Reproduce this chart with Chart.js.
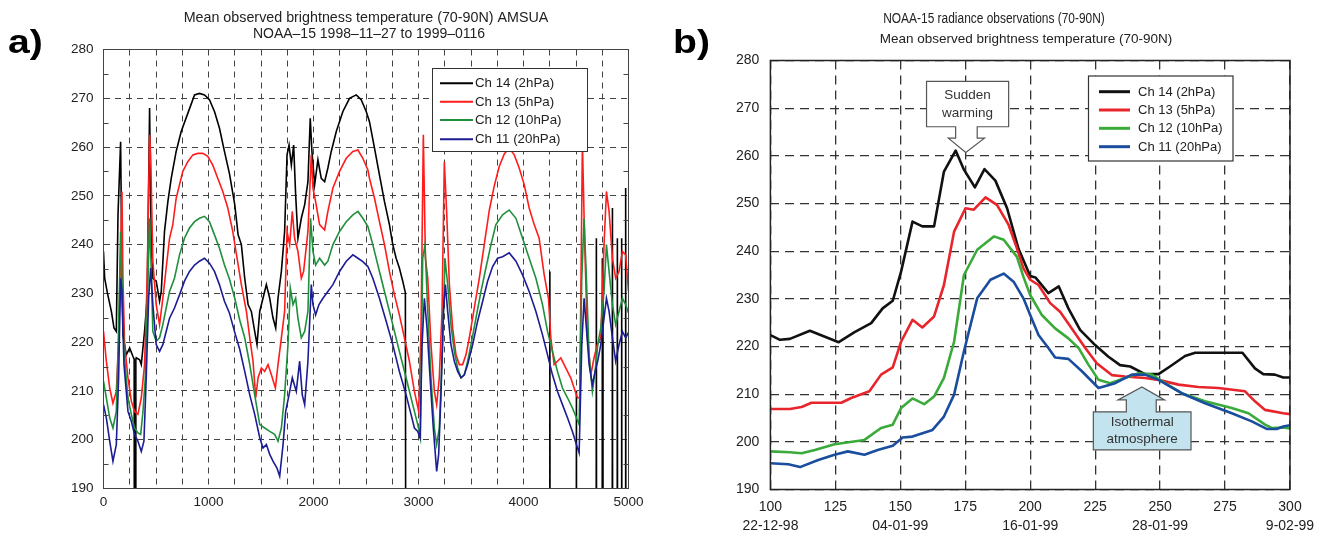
<!DOCTYPE html>
<html><head><meta charset="utf-8">
<script src="https://cdn.jsdelivr.net/npm/chart.js@4.4.1/dist/chart.umd.min.js"></script>
<style>
html,body{margin:0;padding:0;background:#fff;width:1328px;height:534px;overflow:hidden;font-family:"Liberation Sans",Arial,sans-serif;}
#ca{position:absolute;left:0;top:0;}
#cb{position:absolute;left:660px;top:0;}
.plabel{position:absolute;font-weight:bold;font-size:34px;line-height:34px;color:#000;font-family:"Liberation Sans",Arial,sans-serif;transform:scaleX(1.15);transform-origin:0 0;}
</style></head><body>
<canvas id="ca" width="660" height="534"></canvas>
<canvas id="cb" width="668" height="534"></canvas>
<div class="plabel" style="left:8px;top:24px">a)</div>
<div class="plabel" style="left:673px;top:24px">b)</div>
<script>
// ================= DATA =================
const seriesNames = ['Ch 14 (2hPa)','Ch 13 (5hPa)','Ch 12 (10hPa)','Ch 11 (20hPa)'];

// ---- Panel a : observation index vs brightness temperature (K); 0 = missing value ----
const aX14 = [0,11,37,75,100,122,138,163,176,185,217,249,280,292,300,308,312,344,360,391,416,439,455,470,502,534,550,581,613,645,692,740,803,867,914,962,1009,1057,1104,1152,1200,1250,1282,1313,1345,1377,1408,1440,1462,1488,1519,1551,1583,1614,1640,1662,1694,1725,1748,1767,1789,1811,1830,1852,1884,1916,1947,1969,1985,2011,2042,2074,2106,2137,2169,2217,2280,2343,2407,2454,2502,2533,2581,2628,2676,2723,2755,2787,2818,2850,2875,2888,4245,4251,4257,4498,4504,4510,4688,4694,4700,4745,4751,4757,4841,4847,4853,4888,4894,4900,4929,4935,4941,4967,4973,4979,5000];
const aY14 = [238.6,233.1,230.1,226.3,222.9,222.2,246.1,261.1,233.1,221.5,217.4,218.8,217.1,216.5,0,216.5,216.8,216.4,215.4,222.2,229.0,268.0,240.0,233.1,232.5,228.4,230.4,242.7,248.8,253.6,259.1,263.2,266.9,270.7,271.0,270.7,269.7,267.3,263.9,259.1,254.5,248.2,242.0,240.0,233.1,227.7,226.3,222.2,219.5,226.3,229.0,231.8,229.0,225.0,222.9,229.0,234.5,242.7,258.4,260.4,256.3,260.4,250.2,241.3,245.4,248.2,252.9,265.9,259.1,252.3,257.4,253.6,252.9,255.7,259.1,263.2,267.3,270.0,270.7,269.7,267.3,265.2,259.8,254.3,248.8,244.1,240.0,237.2,235.2,232.5,230.1,0,0,234.5,0,0,210.0,0,0,241.3,0,0,237.2,0,0,247.5,0,0,241.3,0,0,241.3,0,0,251.6,0,0];

const aX13 = [0,27,59,90,122,144,163,176,185,201,233,265,296,328,360,391,416,439,449,470,502,534,565,597,629,660,692,724,755,803,851,898,946,993,1041,1088,1136,1184,1231,1266,1313,1361,1393,1424,1450,1472,1504,1535,1567,1599,1637,1662,1694,1725,1748,1773,1798,1820,1852,1884,1906,1947,1979,1995,2020,2058,2106,2137,2185,2248,2312,2375,2423,2470,2518,2533,2581,2628,2676,2723,2771,2818,2866,2913,2961,3002,3024,3046,3066,3088,3119,3151,3173,3198,3224,3246,3268,3294,3325,3357,3389,3420,3452,3484,3531,3579,3626,3674,3721,3769,3817,3864,3912,3959,4007,4054,4102,4149,4197,4238,4260,4292,4324,4355,4387,4419,4450,4482,4514,4536,4561,4583,4609,4641,4672,4704,4736,4767,4790,4815,4847,4878,4910,4942,4973,5000];
const aY13 = [222.2,216.1,210.6,207.5,209.9,219.5,238.6,250.9,233.1,219.5,212.7,207.9,205.8,205.2,208.6,215.4,233.1,262.5,258.4,236.6,227.7,223.6,229.0,235.2,241.3,244.1,249.5,252.3,255.0,257.0,258.4,258.7,258.7,258.1,256.3,253.6,250.9,247.5,242.7,238.0,231.8,226.3,220.9,216.1,208.6,212.7,214.7,214.0,215.4,213.3,210.6,215.4,220.9,226.3,242.7,240.0,246.8,241.3,238.6,233.1,234.5,242.7,258.4,251.6,248.8,244.1,243.0,246.8,251.6,255.0,257.7,259.1,259.4,257.7,255.3,253.6,249.5,244.7,240.0,234.5,229.7,225.6,220.9,216.1,209.9,205.8,222.9,262.5,237.2,233.1,219.5,209.9,207.2,212.7,226.3,257.0,246.8,231.8,222.9,217.4,215.4,215.4,217.4,220.9,227.0,233.1,240.0,247.0,252.0,256.0,258.6,259.8,258.4,255.7,252.3,247.5,244.1,241.3,233.8,229.0,220.9,215.4,216.1,216.8,215.4,214.0,212.7,210.6,208.6,208.6,261.1,240.0,220.9,213.3,216.8,219.5,220.9,240.0,250.9,246.8,237.2,233.1,234.5,238.6,237.9,230.4];

const aX12 = [0,27,59,90,122,144,163,176,195,233,265,296,328,354,376,398,416,439,455,470,502,534,565,597,629,676,724,771,819,867,914,962,1009,1057,1104,1152,1199,1250,1298,1345,1393,1440,1488,1535,1583,1630,1662,1694,1725,1757,1779,1805,1830,1852,1884,1916,1947,1972,1995,2020,2058,2106,2137,2185,2248,2312,2375,2423,2470,2518,2565,2628,2692,2755,2818,2882,2945,2993,3018,3040,3062,3088,3119,3151,3173,3198,3230,3252,3278,3309,3341,3373,3405,3436,3468,3500,3547,3595,3642,3690,3737,3801,3864,3928,3991,4054,4118,4181,4229,4276,4324,4371,4419,4466,4504,4530,4555,4577,4599,4625,4656,4682,4707,4736,4767,4790,4815,4847,4878,4910,4942,4973,5000];
const aY12 = [212.0,208.6,204.5,202.4,205.8,222.9,242.7,233.1,218.1,208.6,205.2,202.4,201.4,201.1,205.8,212.7,226.3,245.4,234.5,222.2,220.2,220.9,223.6,227.0,230.4,233.1,237.9,241.3,243.4,244.7,245.4,245.8,244.7,242.0,239.3,235.8,233.0,229.0,224.5,220.9,215.4,209.2,203.1,202.4,201.7,201.1,199.7,202.4,209.2,219.5,231.1,227.7,229.0,224.9,220.9,222.2,226.3,245.4,238.6,235.8,237.2,235.8,236.6,240.0,242.7,244.7,246.1,246.8,245.4,243.7,240.0,234.5,229.0,223.6,218.1,212.7,207.2,203.1,200.4,237.2,240.0,226.3,212.7,202.4,199.0,202.4,219.5,237.2,231.8,223.6,218.1,214.7,212.7,213.3,216.1,219.5,224.9,230.4,235.2,240.0,244.1,246.1,247.1,245.4,241.3,237.2,233.1,227.7,222.2,218.1,214.0,210.6,208.6,206.5,204.5,203.1,233.1,245.4,233.1,217.4,209.9,214.0,219.5,222.9,230.4,240.0,234.5,227.7,223.6,226.3,229.0,227.7,226.0];

const aX11 = [0,27,59,90,122,144,163,176,195,233,265,296,328,360,385,407,430,449,470,502,534,565,597,629,676,724,771,819,867,914,962,1009,1057,1104,1152,1199,1250,1298,1345,1393,1440,1488,1519,1551,1583,1614,1652,1678,1710,1735,1767,1798,1836,1868,1893,1916,1947,1979,1995,2020,2052,2090,2137,2185,2248,2312,2375,2423,2470,2518,2565,2628,2692,2755,2818,2882,2929,2961,2993,3015,3034,3056,3081,3110,3141,3173,3192,3214,3237,3256,3278,3309,3341,3373,3405,3436,3468,3516,3563,3611,3658,3706,3753,3801,3864,3928,3991,4054,4118,4181,4229,4276,4324,4371,4419,4466,4504,4530,4555,4577,4599,4625,4656,4682,4707,4736,4767,4790,4815,4847,4878,4910,4942,4973,5000];
const aY11 = [207.2,204.5,199.7,195.6,199.0,212.7,233.1,230.4,215.4,205.8,203.8,201.1,199.7,197.6,199.7,212.7,229.0,235.2,227.7,219.5,218.1,219.5,222.2,224.9,227.0,229.7,232.5,234.5,235.8,236.6,237.2,236.2,234.5,231.8,228.4,226.0,222.0,218.5,214.0,209.2,205.2,200.4,198.3,199.0,197.0,195.6,194.2,192.5,199.0,205.8,209.2,212.7,209.9,216.1,209.2,207.2,216.1,231.8,227.7,225.6,227.7,229.0,230.4,231.8,234.5,236.6,237.9,237.2,236.5,235.5,233.1,229.0,224.3,219.5,214.0,209.2,205.2,202.4,201.7,200.4,219.5,229.0,222.9,212.7,202.4,193.5,197.0,209.2,226.3,231.8,226.3,219.5,216.1,214.0,212.7,213.3,215.4,219.5,224.3,228.4,232.5,235.5,237.2,237.5,238.3,236.6,233.8,230.4,226.3,221.5,217.4,213.3,209.9,207.2,204.5,201.7,199.0,197.3,219.5,229.0,222.9,215.4,211.3,214.0,216.1,219.5,224.9,229.0,226.3,220.9,216.1,219.5,222.2,220.9,222.0];

const aXLabelValues = [0,1000,2000,3000,4000,5000];
const aYMinorTicks = [195,205,215,225,235,245,255,265,275];
const aTitle = ['Mean observed brightness temperature (70-90N) AMSUA','NOAA\u201315 1998\u201311\u201327 to 1999\u20130116'];

// ---- Panel b : day number vs brightness temperature (K) ----
const bX14 = [100,103.7,107.5,115.2,126.3,132.4,138.8,143.2,147.1,150.3,154.7,158.5,163,166.8,171.3,174.5,178.7,182.4,186.6,191.1,195.5,200,202,207,211,214.7,219.2,225,230,234.6,238.5,244.2,249.4,253.8,259.6,263.5,275,281.7,286.5,289.7,294.2,297.4,300];
const bY14 = [222.4,221.4,221.6,223.3,220.9,223.0,224.9,228.0,229.6,235.7,246.2,245.2,245.2,256.7,261.1,257.1,253.4,257.2,254.8,249.0,240.5,234.8,234.5,231.2,232.6,228.0,223.5,220.3,217.9,216.1,215.8,214.2,214.2,215.8,218.0,218.7,218.7,218.7,215.4,214.2,214.1,213.5,213.5];
const bX13 = [100,107.5,112,115.8,127.3,131.1,138.1,142.6,147.1,150.3,154.7,158.5,163,166.8,170.7,175.1,178.3,182.8,187.2,191.7,194.9,197.4,200,203.2,207.7,211.5,216,221.2,225.6,231.4,236.5,244.2,249.4,257.1,264.7,272.4,282.7,286.5,290.4,297.4,300];
const bY13 = [206.9,206.9,207.3,208.2,208.2,209.2,210.6,214.1,215.6,221.0,225.6,224.0,226.3,232.9,244.1,249.0,248.7,251.3,249.7,245.5,240.6,236.4,234.0,232.9,229.1,227.3,223.8,219.7,216.5,214.0,213.7,213.4,213.0,212.0,211.5,211.3,210.6,208.5,206.7,206.0,205.8];
const bX12 = [100,107.5,112,117.1,124.7,136.2,142.6,147.1,150.3,154.7,159.2,163,166.8,170.7,174.5,179.6,186,189.8,194.9,197.4,200,204.5,209.6,214.7,218.6,222.4,226.3,230.8,236.5,241.7,246.8,251.9,258.3,267.3,277.6,284,290.4,292.9,297.4,300];
const bY12 = [198.0,197.8,197.6,198.3,199.5,200.4,202.9,203.6,207.1,209.1,207.9,209.5,213.4,221.0,235.0,240.3,243.1,242.4,238.8,234.6,230.8,226.6,223.8,221.7,219.7,216.2,213.0,212.3,213.4,214.4,214.1,212.3,210.2,208.5,207.1,206.0,203.6,202.9,203.0,202.8];
const bX11 = [100,106.9,111.4,118.4,124.7,129.8,136.2,141.3,147.1,150.9,154.7,162.4,166.8,170.7,174.5,179.6,184.7,189.8,193.6,197.4,200,203.2,207,209.6,214.7,219.9,226.3,232.7,239.1,244.2,249.4,258.3,267.3,277.6,285.3,291,294.9,297.4,300];
const bY11 = [195.5,195.3,194.7,196.2,197.3,198.0,197.3,198.3,199.2,200.9,201.1,202.5,205.3,209.9,219.0,230.1,234.0,235.3,233.6,230.1,226.6,222.4,219.7,217.7,217.4,214.8,211.3,212.3,214.1,214.1,213.0,210.2,208.1,206.0,204.3,202.7,202.7,203.2,203.5];

const bDateTicks = [100,150,200,250,300];
const bDateLabels = ['22-12-98','04-01-99','16-01-99','28-01-99','9-02-99'];
const bTitle = 'NOAA-15 radiance observations (70-90N)';
const bSubtitle = 'Mean observed brightness temperature (70-90N)';
const bCallouts = [
  {text:['Sudden','warming'], dir:'down', fill:'#ffffff', x0:160.1, x1:191.7, yTop:275.6, yBot:266.1, sx0:171.3, sx1:179.6, neck:263.7, hx0:168.5, hx1:182.4, tipX:175.2, tipY:260.7},
  {text:['Isothermal','atmosphere'], dir:'up', fill:'#c3e4ee', x0:224.3, x1:261.9, yTop:206.3, yBot:198.3, sx0:237.0, sx1:248.5, neck:208.8, hx0:233.8, hx1:251.7, tipX:243.0, tipY:211.5}
];

// ================= HELPERS =================
const FONT = '"Liberation Sans", Arial, sans-serif';
function pts(xs, ys){ return xs.map((x,i)=>({x:x, y:ys[i]})); }
function scaledText(ctx, text, x, y, sx){
  ctx.save(); ctx.translate(x, y); ctx.scale(sx, 1); ctx.fillText(text, 0, 0); ctx.restore();
}

// ================= PANEL A =================
const colA = ['#000000','#ff1c1c','#1f8f3c','#1c1c94'];
const yA = [aY14,aY13,aY12,aY11], xA = [aX14,aX13,aX12,aX11];

const extrasA = {
  id:'extrasA',
  afterDraw(chart){
    const {ctx, chartArea:ca, scales:{y}} = chart;
    ctx.save();
    ctx.fillStyle = '#222'; ctx.textAlign='center'; ctx.textBaseline='middle';
    ctx.font = '14.3px ' + FONT;
    ctx.fillText(aTitle[0], 366, 18.5);
    ctx.font = '14px ' + FONT;
    ctx.fillText(aTitle[1], 369, 34);
    ctx.strokeStyle = '#444'; ctx.lineWidth = 1;
    ctx.beginPath();
    aYMinorTicks.forEach(v=>{
      const py = Math.round(y.getPixelForValue(v)) + 0.5;
      ctx.moveTo(ca.left, py); ctx.lineTo(ca.left+5, py);
      ctx.moveTo(ca.right, py); ctx.lineTo(ca.right-5, py);
    });
    ctx.stroke();
    ctx.strokeStyle = '#444'; ctx.lineWidth = 1;
    ctx.strokeRect(ca.left, ca.top, ca.right-ca.left, ca.bottom-ca.top);
    const L = {x0:432.5, y0:68.5, x1:587.5, y1:151.5, rows:[83.3,101.7,120,139.3], lx0:440, lx1:473, tx:475};
    ctx.fillStyle = '#fff'; ctx.fillRect(L.x0, L.y0, L.x1-L.x0, L.y1-L.y0);
    ctx.strokeStyle = '#333'; ctx.strokeRect(L.x0, L.y0, L.x1-L.x0, L.y1-L.y0);
    ctx.font = '13.3px ' + FONT; ctx.textAlign='left'; ctx.textBaseline='middle';
    chart.data.datasets.forEach((ds,i)=>{
      const ry = L.rows[i];
      ctx.strokeStyle = ds.borderColor; ctx.lineWidth = 2;
      ctx.beginPath(); ctx.moveTo(L.lx0, ry); ctx.lineTo(L.lx1, ry); ctx.stroke();
      ctx.fillStyle = '#222'; ctx.fillText(ds.label, L.tx, ry+0.5);
    });
    ctx.restore();
  }
};

new Chart(document.getElementById('ca'), {
  type:'line',
  data:{datasets: seriesNames.map((n,i)=>({label:n, data:pts(xA[i], yA[i]), borderColor:colA[i], backgroundColor:colA[i], borderWidth:1.6, pointRadius:0, tension:0, fill:false, order:3-i}))},
  options:{
    responsive:false, animation:false, devicePixelRatio:1,
    layout:{padding:{left:0, right:31.5, top:49.5, bottom:0}},
    plugins:{legend:{display:false}, tooltip:{enabled:false}, title:{display:false}},
    scales:{
      x:{type:'linear', min:0, max:5000,
         ticks:{stepSize:250, autoSkip:false, maxRotation:0, padding:6, color:'#222', font:{family:FONT, size:13.5},
                callback:(v)=> aXLabelValues.includes(v) ? String(v) : ''},
         grid:{color:'#444', lineWidth:1, drawTicks:false},
         border:{display:false, dash:[6,5]},
         afterFit(s){ s.height = 45.5; }},
      y:{type:'linear', min:190, max:280,
         ticks:{stepSize:10, padding:10, color:'#222', font:{family:FONT, size:13.5}},
         grid:{color:'#444', lineWidth:1, drawTicks:false},
         border:{display:false, dash:[6,5]},
         afterFit(s){ s.width = 103.5; }}
    }
  },
  plugins:[extrasA]
});

// ================= PANEL B =================
const colB = ['#111111','#e8252b','#3aab3a','#1b4d9e'];
const yB = [bY14,bY13,bY12,bY11], xB = [bX14,bX13,bX12,bX11];

function drawCallout(ctx, xs, ys, c){
  const X = v=>xs.getPixelForValue(v), Y = v=>ys.getPixelForValue(v);
  const bx0=X(c.x0), bx1=X(c.x1), by0=Y(c.yTop), by1=Y(c.yBot);
  const sx0=X(c.sx0), sx1=X(c.sx1), hx0=X(c.hx0), hx1=X(c.hx1), ny=Y(c.neck), tx=X(c.tipX), ty=Y(c.tipY);
  ctx.beginPath();
  if (c.dir==='down'){
    ctx.moveTo(bx0,by0); ctx.lineTo(bx1,by0); ctx.lineTo(bx1,by1); ctx.lineTo(sx1,by1);
    ctx.lineTo(sx1,ny); ctx.lineTo(hx1,ny); ctx.lineTo(tx,ty); ctx.lineTo(hx0,ny); ctx.lineTo(sx0,ny);
    ctx.lineTo(sx0,by1); ctx.lineTo(bx0,by1); ctx.closePath();
  } else {
    ctx.moveTo(bx0,by1); ctx.lineTo(bx1,by1); ctx.lineTo(bx1,by0); ctx.lineTo(sx1,by0);
    ctx.lineTo(sx1,ny); ctx.lineTo(hx1,ny); ctx.lineTo(tx,ty); ctx.lineTo(hx0,ny); ctx.lineTo(sx0,ny);
    ctx.lineTo(sx0,by0); ctx.lineTo(bx0,by0); ctx.closePath();
  }
  ctx.fillStyle = c.fill; ctx.fill();
  ctx.strokeStyle = '#555'; ctx.lineWidth = 1.2; ctx.stroke();
  ctx.fillStyle = '#333'; ctx.font = '13.5px ' + FONT; ctx.textAlign='center'; ctx.textBaseline='middle';
  const cx = (bx0+bx1)/2, cy = (by0+by1)/2;
  ctx.fillText(c.text[0], cx, cy-8.8);
  ctx.fillText(c.text[1], cx, cy+8.8);
}

const extrasB = {
  id:'extrasB',
  afterDraw(chart){
    const {ctx, chartArea:ca, scales:{x, y}} = chart;
    ctx.save();
    ctx.fillStyle = '#222'; ctx.textAlign='center'; ctx.textBaseline='middle';
    ctx.font = '15.5px ' + FONT;
    scaledText(ctx, bTitle, 994-660, 18.5, 0.77);
    ctx.font = '13.5px ' + FONT;
    ctx.fillText(bSubtitle, 1026-660, 39);
    ctx.strokeStyle = '#222'; ctx.lineWidth = 1.5;
    ctx.strokeRect(ca.left, ca.top, ca.right-ca.left, ca.bottom-ca.top);
    const L = {x0:1088.5-660, y0:76, x1:1233-660, y1:161, rows:[91.7,110,128.3,146.7], lx0:1099-660, lx1:1130-660, tx:1138-660};
    ctx.fillStyle = '#fff'; ctx.fillRect(L.x0, L.y0, L.x1-L.x0, L.y1-L.y0);
    ctx.strokeStyle = '#333'; ctx.lineWidth = 1.2; ctx.strokeRect(L.x0, L.y0, L.x1-L.x0, L.y1-L.y0);
    ctx.font = '13px ' + FONT; ctx.textAlign='left'; ctx.textBaseline='middle';
    chart.data.datasets.forEach((ds,i)=>{
      const ry = L.rows[i];
      ctx.strokeStyle = ds.borderColor; ctx.lineWidth = 3;
      ctx.beginPath(); ctx.moveTo(L.lx0, ry); ctx.lineTo(L.lx1, ry); ctx.stroke();
      ctx.fillStyle = '#222'; ctx.fillText(ds.label, L.tx, ry+0.5);
    });
    bCallouts.forEach(c=>drawCallout(ctx, x, y, c));
    ctx.restore();
  }
};

new Chart(document.getElementById('cb'), {
  type:'line',
  data:{datasets: seriesNames.map((n,i)=>({label:n, data:pts(xB[i], yB[i]), borderColor:colB[i], backgroundColor:colB[i], borderWidth:2.6, pointRadius:0, tension:0, fill:false, order:3-i, borderJoinStyle:'round'}))},
  options:{
    responsive:false, animation:false, devicePixelRatio:1,
    layout:{padding:{left:0, right:38, top:60.5, bottom:0}},
    plugins:{legend:{display:false}, tooltip:{enabled:false}, title:{display:false}},
    scales:{
      x:{type:'linear', min:100, max:300,
         ticks:{stepSize:25, autoSkip:false, maxRotation:0, padding:9, color:'#222', font:{family:FONT, size:14, lineHeight:1.3},
                callback:(v)=>{ const k = bDateTicks.indexOf(v); return k>=0 ? [String(v), bDateLabels[k]] : String(v); }},
         grid:{color:'#333', lineWidth:1.3, drawTicks:false},
         border:{display:false, dash:[9,6]},
         afterFit(s){ s.height = 44.5; }},
      y:{type:'linear', min:190, max:280,
         ticks:{stepSize:10, padding:11, color:'#222', font:{family:FONT, size:14}},
         grid:{color:'#333', lineWidth:1.3, drawTicks:false},
         border:{display:false, dash:[9,6]},
         afterFit(s){ s.width = 110.4; }}
    }
  },
  plugins:[extrasB]
});
</script>
</body></html>
